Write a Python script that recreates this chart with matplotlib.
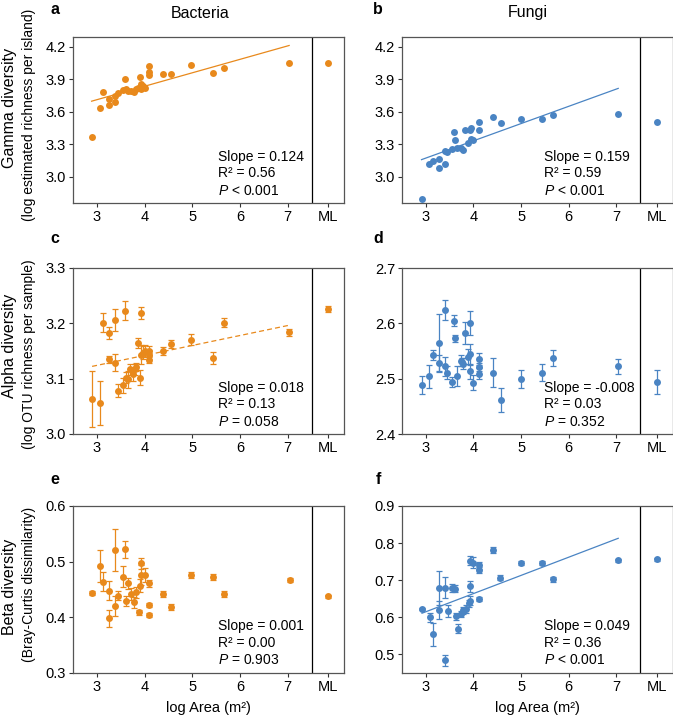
import numpy as np
import matplotlib
matplotlib.use("Agg")
import matplotlib.pyplot as plt

plt.rcParams['font.family'] = ['Liberation Sans', 'DejaVu Sans']
plt.rcParams['mathtext.fontset'] = 'custom'
plt.rcParams['mathtext.rm'] = 'Liberation Sans'
plt.rcParams['mathtext.it'] = 'Liberation Sans:italic'

ORANGE = '#E8891C'
BLUE = '#4A84C3'

# ---- panel a: bacteria gamma diversity ----
a_x = [2.89, 3.06, 3.13, 3.26, 3.26, 3.38, 3.38, 3.45, 3.54, 3.58, 3.61, 3.66, 3.71, 3.78, 3.83,
       3.87, 3.91, 3.92, 3.93, 3.96, 4.00, 4.10, 4.10, 4.10, 4.39, 4.55, 4.97, 5.43, 5.66, 7.03]
a_y = [3.37, 3.64, 3.78, 3.72, 3.66, 3.69, 3.75, 3.77, 3.80, 3.90, 3.81, 3.79, 3.79, 3.78, 3.81,
       3.82, 3.92, 3.86, 3.81, 3.84, 3.82, 4.02, 3.97, 3.94, 3.95, 3.95, 4.03, 3.96, 4.00, 4.05]
a_ml = 4.05

# ---- panel b: fungi gamma diversity ----
b_x = [2.91, 3.07, 3.15, 3.28, 3.28, 3.41, 3.41, 3.45, 3.56, 3.59, 3.61, 3.66, 3.73, 3.79,
       3.83, 3.89, 3.92, 3.94, 3.94, 3.99, 4.11, 4.11, 4.41, 4.57, 4.99, 5.43, 5.68, 7.04]
b_y = [2.80, 3.12, 3.15, 3.17, 3.08, 3.12, 3.24, 3.23, 3.26, 3.41, 3.34, 3.27, 3.27, 3.25,
       3.43, 3.31, 3.43, 3.45, 3.35, 3.34, 3.51, 3.43, 3.55, 3.50, 3.53, 3.53, 3.57, 3.58]
b_ml = 3.51

# ---- panel c: bacteria alpha diversity ----
c_x = [2.90, 3.06, 3.13, 3.26, 3.26, 3.38, 3.38, 3.45, 3.54, 3.58, 3.61, 3.66, 3.70, 3.75, 3.80,
       3.83, 3.87, 3.91, 3.92, 3.92, 3.96, 4.00, 4.10, 4.10, 4.10, 4.39, 4.55, 4.97, 5.43, 5.66, 7.03]
c_y = [3.063, 3.056, 3.201, 3.182, 3.135, 3.206, 3.129, 3.078, 3.088, 3.223, 3.102, 3.099, 3.117,
       3.108, 3.117, 3.121, 3.164, 3.102, 3.218, 3.143, 3.147, 3.150, 3.150, 3.143, 3.134, 3.150,
       3.162, 3.170, 3.138, 3.201, 3.184]
c_err = [0.051, 0.039, 0.017, 0.011, 0.006, 0.019, 0.016, 0.012, 0.014, 0.017, 0.010, 0.015, 0.010,
         0.012, 0.010, 0.008, 0.009, 0.014, 0.011, 0.017, 0.012, 0.010, 0.009, 0.008, 0.006, 0.008,
         0.007, 0.010, 0.011, 0.008, 0.006]
c_ml, c_ml_err = 3.226, 0.005

# ---- panel d: fungi alpha diversity ----
d_x = [2.91, 3.07, 3.15, 3.28, 3.27, 3.41, 3.41, 3.45, 3.56, 3.59, 3.61, 3.66, 3.73, 3.77, 3.79,
       3.83, 3.88, 3.92, 3.93, 3.93, 3.99, 4.11, 4.11, 4.11, 4.41, 4.57, 4.99, 5.43, 5.68, 7.04]
d_y = [2.488, 2.504, 2.543, 2.564, 2.528, 2.624, 2.522, 2.511, 2.494, 2.605, 2.573, 2.504, 2.532,
       2.530, 2.527, 2.583, 2.540, 2.513, 2.601, 2.544, 2.493, 2.535, 2.521, 2.509, 2.511, 2.462,
       2.499, 2.511, 2.537, 2.522]
d_err = [0.016, 0.021, 0.009, 0.052, 0.015, 0.018, 0.018, 0.012, 0.009, 0.010, 0.006, 0.018, 0.010,
         0.008, 0.010, 0.020, 0.014, 0.014, 0.022, 0.019, 0.014, 0.011, 0.008, 0.010, 0.026, 0.022,
         0.016, 0.016, 0.015, 0.013]
d_ml, d_ml_err = 2.494, 0.021

# ---- panel e: bacteria beta diversity ----
e_x = [2.90, 3.06, 3.13, 3.26, 3.26, 3.38, 3.38, 3.45, 3.54, 3.58, 3.61, 3.66, 3.71, 3.78, 3.83,
       3.88, 3.91, 3.93, 3.93, 4.00, 4.10, 4.10, 4.10, 4.39, 4.56, 4.98, 5.43, 5.66, 7.04]
e_y = [0.444, 0.492, 0.464, 0.448, 0.398, 0.521, 0.420, 0.439, 0.473, 0.522, 0.430, 0.461, 0.442,
       0.427, 0.445, 0.409, 0.457, 0.497, 0.476, 0.476, 0.461, 0.422, 0.404, 0.442, 0.419, 0.476,
       0.472, 0.442, 0.467]
e_err = [0.003, 0.029, 0.017, 0.017, 0.016, 0.037, 0.018, 0.008, 0.019, 0.016, 0.009, 0.010, 0.010,
         0.010, 0.010, 0.005, 0.011, 0.010, 0.018, 0.012, 0.006, 0.004, 0.004, 0.006, 0.005, 0.005,
         0.005, 0.005, 0.003]
e_ml, e_ml_err = 0.438, 0.003

# ---- panel f: fungi beta diversity ----
f_x = [2.92, 3.08, 3.15, 3.27, 3.28, 3.41, 3.41, 3.46, 3.56, 3.61, 3.63, 3.67, 3.74, 3.78, 3.84,
       3.90, 3.93, 3.93, 3.93, 3.99, 4.12, 4.12, 4.12, 4.41, 4.56, 4.99, 5.43, 5.67, 7.04]
f_y = [0.622, 0.600, 0.554, 0.620, 0.679, 0.680, 0.484, 0.618, 0.679, 0.677, 0.603, 0.569, 0.609,
       0.619, 0.623, 0.638, 0.645, 0.684, 0.753, 0.747, 0.740, 0.727, 0.649, 0.781, 0.707, 0.746,
       0.746, 0.702, 0.754]
f_err = [0.003, 0.013, 0.031, 0.025, 0.045, 0.029, 0.014, 0.016, 0.012, 0.010, 0.010, 0.012, 0.008,
         0.010, 0.010, 0.010, 0.012, 0.015, 0.012, 0.015, 0.010, 0.008, 0.006, 0.008, 0.007, 0.005,
         0.005, 0.007, 0.004]
f_ml, f_ml_err = 0.757, 0.004

# regression stats (slope, R2, P text) and fitted lines (slope, intercept)
stats_text = {
    'a': ('0.124', '0.56', '< 0.001'),
    'b': ('0.159', '0.59', '< 0.001'),
    'c': ('0.018', '0.13', '= 0.058'),
    'd': ('-0.008', '0.03', '= 0.352'),
    'e': ('0.001', '0.00', '= 0.903'),
    'f': ('0.049', '0.36', '< 0.001'),
}
fit_a = (0.124, 3.340)
fit_b = (0.159, 2.697)
fit_c = (0.018, 3.070)
fit_f = (0.049, 0.468)

x_ticks = [3, 4, 5, 6, 7]
ML_POS = 7.85
DIVIDER = 7.5
MS = 5.0


def draw_panel(ax, x, y, ml, color, yticks, ylim, letter, err=None, ml_err=None, fit=None, dashed=False):
    if err is None:
        ax.plot(x, y, 'o', color=color, ms=MS, mec='none', zorder=3)
        ax.plot([ML_POS], [ml], 'o', color=color, ms=MS, mec='none', zorder=3)
    else:
        ax.errorbar(x, y, yerr=err, fmt='o', color=color, ms=MS, mec='none',
                    ecolor=color, elinewidth=0.9, capsize=2.2, capthick=0.9, zorder=3)
        ax.errorbar([ML_POS], [ml], yerr=[ml_err], fmt='o', color=color, ms=MS, mec='none',
                    ecolor=color, elinewidth=0.9, capsize=2.2, capthick=0.9, zorder=3)
    if fit is not None:
        xs = np.array([min(x), max(x)])
        ax.plot(xs, fit[0] * xs + fit[1], color=color, lw=0.9,
                ls=(0, (4, 2.5)) if dashed else '-', zorder=2)
    ax.axvline(DIVIDER, color='black', lw=0.9)
    ax.set_xlim(2.5, 8.18)
    ax.set_ylim(*ylim)
    ax.set_xticks(x_ticks + [ML_POS])
    ax.set_xticklabels([str(t) for t in x_ticks] + ['ML'])
    ax.set_yticks(yticks)
    ax.set_yticklabels(['%.1f' % t for t in yticks])
    ax.tick_params(labelsize=10.5, length=3, width=0.8, color='#333333', pad=2)
    for s in ax.spines.values():
        s.set_color('#555555')
        s.set_linewidth(0.9)
    sl, r2, p = stats_text[letter]
    tx = 0.525 if letter in 'bdf' else 0.535
    ax.text(tx, 0.28, 'Slope = ' + sl, transform=ax.transAxes, fontsize=10, va='center')
    ax.text(tx, 0.18, 'R² = ' + r2, transform=ax.transAxes, fontsize=10, va='center')
    ax.text(tx, 0.075, r'$\it{P}$ ' + p, transform=ax.transAxes, fontsize=10, va='center')


W, H = 673, 717
fig = plt.figure(figsize=(W / 100, H / 100), dpi=100)


def add_axes(left_px, top_px, right_px, bottom_px):
    return fig.add_axes([left_px / W, 1 - bottom_px / H, (right_px - left_px) / W, (bottom_px - top_px) / H])


ax_a = add_axes(73, 37, 344, 203)
ax_b = add_axes(402, 37, 672.5, 203)
ax_c = add_axes(73, 268, 344, 434)
ax_d = add_axes(402, 268, 672.5, 434)
ax_e = add_axes(73, 506, 344, 673)
ax_f = add_axes(402, 506, 672.5, 673)

gamma_ticks = [3.0, 3.3, 3.6, 3.9, 4.2]
draw_panel(ax_a, a_x, a_y, a_ml, ORANGE, gamma_ticks, (2.76, 4.29), 'a', fit=fit_a)
draw_panel(ax_b, b_x, b_y, b_ml, BLUE, gamma_ticks, (2.76, 4.29), 'b', fit=fit_b)
draw_panel(ax_c, c_x, c_y, c_ml, ORANGE, [3.0, 3.1, 3.2, 3.3], (3.0, 3.3), 'c',
           err=c_err, ml_err=c_ml_err, fit=fit_c, dashed=True)
draw_panel(ax_d, d_x, d_y, d_ml, BLUE, [2.4, 2.5, 2.6, 2.7], (2.4, 2.7), 'd',
           err=d_err, ml_err=d_ml_err)
draw_panel(ax_e, e_x, e_y, e_ml, ORANGE, [0.3, 0.4, 0.5, 0.6], (0.3, 0.6), 'e',
           err=e_err, ml_err=e_ml_err)
draw_panel(ax_f, f_x, f_y, f_ml, BLUE, [0.5, 0.6, 0.7, 0.8, 0.9], (0.45, 0.9), 'f',
           err=f_err, ml_err=f_ml_err, fit=fit_f)

ax_e.set_xlabel('log Area (m²)', fontsize=10.5, labelpad=5)
ax_f.set_xlabel('log Area (m²)', fontsize=10.5, labelpad=5)

# column titles
fig.text(200 / W, 1 - 13 / H, 'Bacteria', fontsize=11.5, ha='center', va='center')
fig.text(528 / W, 1 - 13 / H, 'Fungi', fontsize=11.5, ha='center', va='center')

# panel letters
for lab, (px, py) in {'a': (55, 9), 'b': (378, 9), 'c': (55, 239), 'd': (378, 239),
                      'e': (55, 480), 'f': (378, 480)}.items():
    fig.text(px / W, 1 - py / H, lab, fontsize=11.5, fontweight='bold', ha='center', va='center')

# row labels
row_labels = [('Gamma diversity', '(log estimated richness per island)', 108, 115),
              ('Alpha diversity', '(log OTU richness per sample)', 346, 354),
              ('Beta diversity', '(Bray-Curtis dissimilarity)', 587, 584)]
for main, sub, y1, y2 in row_labels:
    fig.text(10 / W, 1 - y1 / H, main, fontsize=11.5, rotation=90, ha='center', va='center')
    fig.text(29 / W, 1 - y2 / H, sub, fontsize=10, rotation=90, ha='center', va='center')

fig.savefig('out.png', dpi=100)
